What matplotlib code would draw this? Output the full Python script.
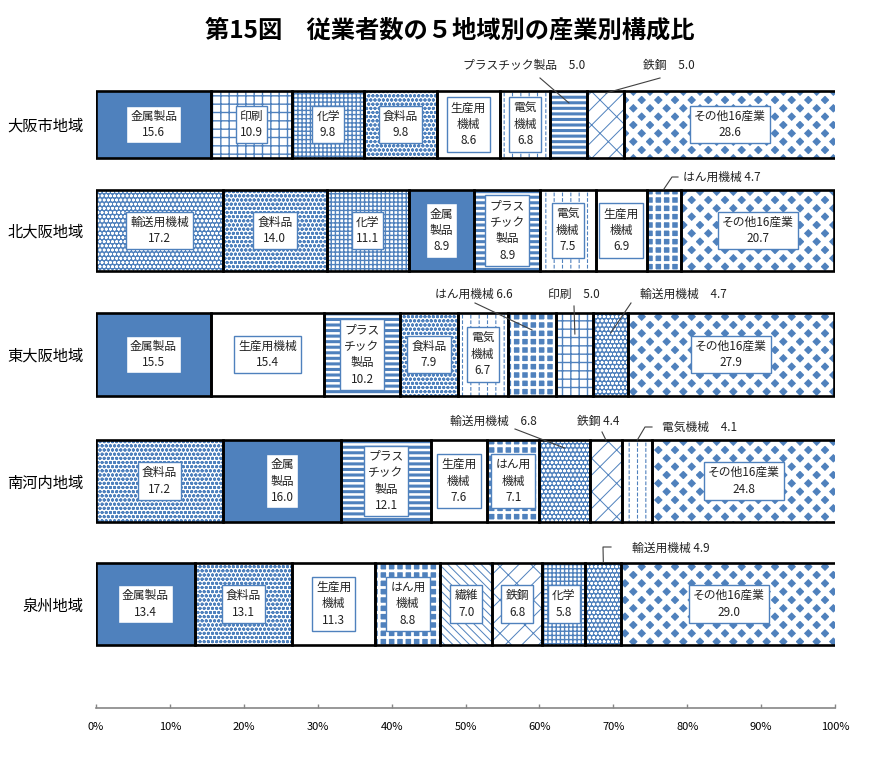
import matplotlib
matplotlib.use('Agg')
import matplotlib.pyplot as plt
from matplotlib.patches import Rectangle
import numpy as np

plt.rcParams['font.family'] = ['Noto Sans CJK JP', 'DejaVu Sans']
plt.rcParams['hatch.linewidth'] = 1.0

# ---------------- data ----------------
title = '第15図　従業者数の５地域別の産業別構成比'
regions = ['大阪市地域', '北大阪地域', '東大阪地域', '南河内地域', '泉州地域']

ind_osaka = ['金属製品', '印刷', '化学', '食料品', '生産用機械', '電気機械', 'プラスチック製品', '鉄鋼', 'その他16産業']
val_osaka = [15.6, 10.9, 9.8, 9.8, 8.6, 6.8, 5.0, 5.0, 28.6]
lab_osaka = ['金属製品', '印刷', '化学', '食料品', '生産用\n機械', '電気\n機械', None, None, 'その他16産業']

ind_kita = ['輸送用機械', '食料品', '化学', '金属製品', 'プラスチック製品', '電気機械', '生産用機械', 'はん用機械', 'その他16産業']
val_kita = [17.2, 14.0, 11.1, 8.9, 8.9, 7.5, 6.9, 4.7, 20.7]
lab_kita = ['輸送用機械', '食料品', '化学', '金属\n製品', 'プラス\nチック\n製品', '電気\n機械', '生産用\n機械', None, 'その他16産業']

ind_higashi = ['金属製品', '生産用機械', 'プラスチック製品', '食料品', '電気機械', 'はん用機械', '印刷', '輸送用機械', 'その他16産業']
val_higashi = [15.5, 15.4, 10.2, 7.9, 6.7, 6.6, 5.0, 4.7, 27.9]
lab_higashi = ['金属製品', '生産用機械', 'プラス\nチック\n製品', '食料品', '電気\n機械', None, None, None, 'その他16産業']

ind_minami = ['食料品', '金属製品', 'プラスチック製品', '生産用機械', 'はん用機械', '輸送用機械', '鉄鋼', '電気機械', 'その他16産業']
val_minami = [17.2, 16.0, 12.1, 7.6, 7.1, 6.8, 4.4, 4.1, 24.8]
lab_minami = ['食料品', '金属\n製品', 'プラス\nチック\n製品', '生産用\n機械', 'はん用\n機械', None, None, None, 'その他16産業']

ind_senshu = ['金属製品', '食料品', '生産用機械', 'はん用機械', '繊維', '鉄鋼', '化学', '輸送用機械', 'その他16産業']
val_senshu = [13.4, 13.1, 11.3, 8.8, 7.0, 6.8, 5.8, 4.9, 29.0]
lab_senshu = ['金属製品', '食料品', '生産用\n機械', 'はん用\n機械', '繊維', '鉄鋼', '化学', None, 'その他16産業']

xticks = [0, 10, 20, 30, 40, 50, 60, 70, 80, 90, 100]
xtick_labels = ['0%', '10%', '20%', '30%', '40%', '50%', '60%', '70%', '80%', '90%', '100%']

rows = [
    (ind_osaka, val_osaka, lab_osaka),
    (ind_kita, val_kita, lab_kita),
    (ind_higashi, val_higashi, lab_higashi),
    (ind_minami, val_minami, lab_minami),
    (ind_senshu, val_senshu, lab_senshu),
]

# ---------------- styles / layout ----------------
BLUE = '#4F81BD'
# each style: face colour, then hatch layers (pattern, colour, linewidth)
styles = {
    '金属製品': dict(fc=BLUE, layers=[]),
    '印刷': dict(fc='white', layers=[('++', BLUE, 1.0)]),
    '化学': dict(fc='white', layers=[('++++', BLUE, 1.0)]),
    '食料品': dict(fc='white', layers=[('oooo', BLUE, 1.0)]),
    '生産用機械': dict(fc='white', layers=[]),
    '電気機械': dict(fc='white', layers=[('||', BLUE, 0.8), ('---', 'white', 1.3)]),
    'プラスチック製品': dict(fc='white', layers=[('---', BLUE, 2.2)]),
    '鉄鋼': dict(fc='white', layers=[('//\\', BLUE, 0.7)]),
    'その他16産業': dict(fc=BLUE, layers=[('xx', 'white', 4.0)]),
    '輸送用機械': dict(fc=BLUE, layers=[('oooo', 'white', 0.8)]),
    'はん用機械': dict(fc=BLUE, layers=[('++', 'white', 2.0)]),
    '繊維': dict(fc='white', layers=[('\\\\\\\\', BLUE, 0.7)]),
}

W, H = 877, 763
X0, X1 = 96, 835
AXB = 708
bar_px = [(91, 158), (190, 271), (313, 396), (440, 522), (563, 645)]

# external labels: (row, seg, text-left px, text-y px, sep, line points px, end-y px)
ext = [
    (0, 6, 463, 65, '　', [(540, 78)], 103),
    (0, 7, 643, 65, '　', [(660, 78)], 93),
    (1, 7, 683, 177, ' ', [(678, 177), (672, 177)], 189),
    (2, 5, 435, 294, ' ', [(475, 303)], 330),
    (2, 6, 548, 294, '　', [(574, 306)], 334),
    (2, 7, 640, 294, '　', [(631, 303)], 333),
    (3, 5, 450, 421, '　', [(515, 429)], 448),
    (3, 6, 577, 421, ' ', [(602, 432)], 440),
    (3, 7, 662, 427, '　', [(652, 427), (645, 427)], 440),
    (4, 7, 632, 548, ' ', [(611, 547), (603, 547)], 562),
]

fig = plt.figure(figsize=(W / 100, H / 100), dpi=100)
ax = fig.add_axes([X0 / W, (H - AXB) / H, (X1 - X0) / W, AXB / H])
ax.set_xlim(0, 100)
ax.set_ylim(AXB, 0)


def px2x(px):
    return (px - X0) / (X1 - X0) * 100


centers = []
lefts_all = []
for r, (inds, vals, labs) in enumerate(rows):
    top, bot = bar_px[r]
    yc = (top + bot) / 2
    h = bot - top
    centers.append(yc)
    lefts = np.concatenate([[0], np.cumsum(vals)[:-1]])
    lefts_all.append(lefts)
    for ind, v, left, lab in zip(inds, vals, lefts, labs):
        st = styles[ind]
        ax.barh(yc, v, left=left, height=h, color=st['fc'], linewidth=0, zorder=1)
        for k, (pat, hc, hlw) in enumerate(st['layers']):
            with plt.rc_context({'hatch.linewidth': hlw}):
                hp = Rectangle((left, yc - h / 2), v, h, facecolor='none', edgecolor=hc,
                               linewidth=0, hatch=pat, zorder=2 + 0.1 * k)
            hp.set_hatch_linewidth(hlw)
            ax.add_patch(hp)
        ax.barh(yc, v, left=left, height=h, color='none', edgecolor='black',
                linewidth=1.9, zorder=4)
        if lab:
            ax.text(left + v / 2, yc, f'{lab}\n{v:.1f}', ha='center', va='center',
                    fontsize=8.5, color='#222222', linespacing=1.35, zorder=6,
                    bbox=dict(boxstyle='square,pad=0.35', fc='white', ec=BLUE, lw=1.0))

for (r, s, tx, ty, sep, pts, ey) in ext:
    inds, vals, _ = rows[r]
    name = inds[s]
    v = vals[s]
    ax.text(px2x(tx), ty, f'{name}{sep}{v:.1f}', ha='left', va='center',
            fontsize=8.5, color='#222222', zorder=6)
    xs = [px2x(p[0]) for p in pts] + [lefts_all[r][s] + v / 2]
    ys = [p[1] for p in pts] + [ey]
    ax.plot(xs, ys, color='#404040', lw=0.8, zorder=7, clip_on=False)

ax.set_yticks(centers)
ax.set_yticklabels(regions, fontsize=11)
ax.tick_params(axis='y', length=0, pad=9)

ax.set_xticks(xticks)
ax.set_xticklabels(xtick_labels, fontsize=8)
ax.tick_params(axis='x', direction='in', length=3, width=1, color='#868686', pad=10)

for sp in ['top', 'right', 'left']:
    ax.spines[sp].set_visible(False)
ax.spines['bottom'].set_color('#868686')
ax.spines['bottom'].set_linewidth(1.2)

fig.text(450 / W, 1 - 31 / H, title, ha='center', va='center', fontsize=17.5,
         fontweight='bold')

fig.savefig('out.png', dpi=100)
